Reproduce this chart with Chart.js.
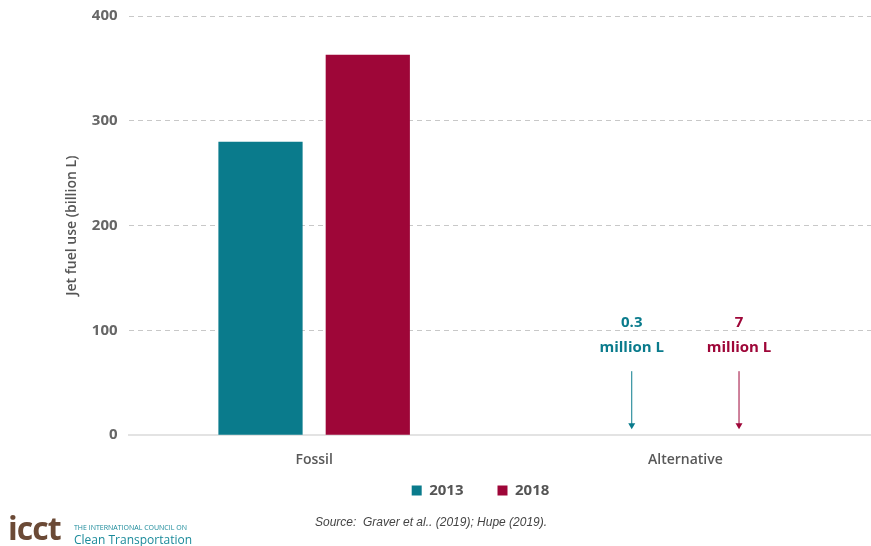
<!DOCTYPE html>
<html>
<head>
<meta charset="utf-8">
<script src="https://cdn.jsdelivr.net/npm/chart.js@4"></script>
<style>
  body { margin: 0; background: #fff; font-family: "Open Sans", sans-serif; overflow: hidden; }
  #wrap { position: relative; width: 871px; height: 546px; overflow: hidden; }
  #box { position: absolute; left: 0; top: -4px; width: 871px; height: 539px; }
  .src { position: absolute; left: 315px; top: 515px; font: italic 12px "Liberation Sans", Arial, sans-serif; color: #444; }
  .logo { position: absolute; left: 8px; top: 506px; }
  .logo .ic { font: bold 32px "Open Sans", sans-serif; color: #6b4a36; letter-spacing: -1px; }
  .logo .t1 { position: absolute; left: 66px; top: 17px; font: 7px "Open Sans", sans-serif; color: #1a8a9a; white-space: nowrap; }
  .logo .t2 { position: absolute; left: 66px; top: 25px; font: 12px "Open Sans", sans-serif; color: #1a8a9a; white-space: nowrap; }
</style>
</head>
<body>
<div id="wrap">
  <div id="box"><canvas id="fuelChart"></canvas></div>
  <div class="logo"><span class="ic">icct</span><span class="t1">THE INTERNATIONAL COUNCIL ON</span><span class="t2">Clean Transportation</span></div>
  <div class="src">Source:&nbsp; Graver et al.. (2019); Hupe (2019).</div>
</div>
<script>
// Données
const categories = ["Fossil", "Alternative"];
const years = ["2013", "2018"];
const fuel2013 = [280, 0.0003];   // billion L
const fuel2018 = [363, 0.007];    // billion L
const yTicks = [0, 100, 200, 300, 400];
const colors = ["#0a7b8c", "#9e0638"];

// Flèches + étiquettes pour les valeurs trop petites
const smallArrows = {
    id: "smallArrows",
    afterDatasetsDraw(chart) {
        const ctx = chart.ctx;
        const y0 = chart.scales.y.getPixelForValue(0);
        chart.data.datasets.forEach((ds, i) => {
            const x = chart.getDatasetMeta(i).data[1].x;
            const txt = String(+(ds.data[1] * 1000).toFixed(1));
            ctx.save();
            ctx.fillStyle = colors[i];
            ctx.strokeStyle = colors[i];
            ctx.font = "bold 15px 'Open Sans'";
            ctx.textAlign = "center";
            ctx.textBaseline = "middle";
            ctx.fillText(txt, x, y0 - 112);
            ctx.fillText("million L", x, y0 - 87);
            ctx.lineWidth = 1;
            ctx.beginPath();
            ctx.moveTo(x, y0 - 64);
            ctx.lineTo(x, y0 - 10);
            ctx.stroke();
            ctx.beginPath();
            ctx.moveTo(x - 3.5, y0 - 12);
            ctx.lineTo(x + 3.5, y0 - 12);
            ctx.lineTo(x, y0 - 6);
            ctx.closePath();
            ctx.fill();
            ctx.restore();
        });
    }
};

// remonte la légende plus près de l'axe
const legendShift = {
    id: "legendShift",
    afterLayout(chart) {
        const lg = chart.legend;
        lg.top -= 27; lg.bottom -= 27;
        lg.left += 13; lg.right += 13;
    }
};

// barres invisibles si la valeur est minuscule (annotées par flèche)
const barColor = i => c => (c.raw < 1 ? "rgba(0,0,0,0)" : colors[i]);

const config = {
    type: "bar",
    data: {
        labels: categories,
        datasets: [
            { label: years[0], data: fuel2013, backgroundColor: barColor(0) },
            { label: years[1], data: fuel2018, backgroundColor: barColor(1) }
        ]
    },
    options: {
        responsive: true,
        maintainAspectRatio: false,
        animation: false,
        categoryPercentage: 0.578,
        barPercentage: 0.785,
        layout: { padding: { left: 64, right: 0, top: 8, bottom: 0 } },
        plugins: {
            tooltip: { enabled: false },
            legend: {
                position: "bottom",
                labels: {
                    boxWidth: 10, boxHeight: 10, padding: 34,
                    color: "#555", font: { family: "Open Sans", size: 15, weight: "bold" },
                    generateLabels: chart => chart.data.datasets.map((ds, i) => ({
                        text: ds.label, fillStyle: colors[i], strokeStyle: colors[i],
                        lineWidth: 0, datasetIndex: i, fontColor: "#555"
                    }))
                }
            }
        },
        scales: {
            x: {
                z: 1,
                grid: { display: false },
                border: { color: "#e3e3e3", width: 2 },
                ticks: { color: "#595959", font: { family: "Open Sans", size: 14, weight: "600" }, padding: 8 }
            },
            y: {
                min: 0, max: 400,
                afterBuildTicks: axis => { axis.ticks = yTicks.map(v => ({ value: v })); },
                grid: { color: "#c8c8c8", drawTicks: false },
                border: { display: false, dash: [5, 4] },
                ticks: { color: "#666", padding: 11, font: { family: "Open Sans", size: 15, weight: "bold" } },
                title: {
                    display: true, text: "Jet fuel use (billion L)", color: "#555",
                    padding: 0,
                    font: { family: "Open Sans", size: 14, weight: "600" }
                }
            }
        }
    },
    plugins: [smallArrows, legendShift]
};

new Chart(document.getElementById("fuelChart"), config);
</script>
</body>
</html>
